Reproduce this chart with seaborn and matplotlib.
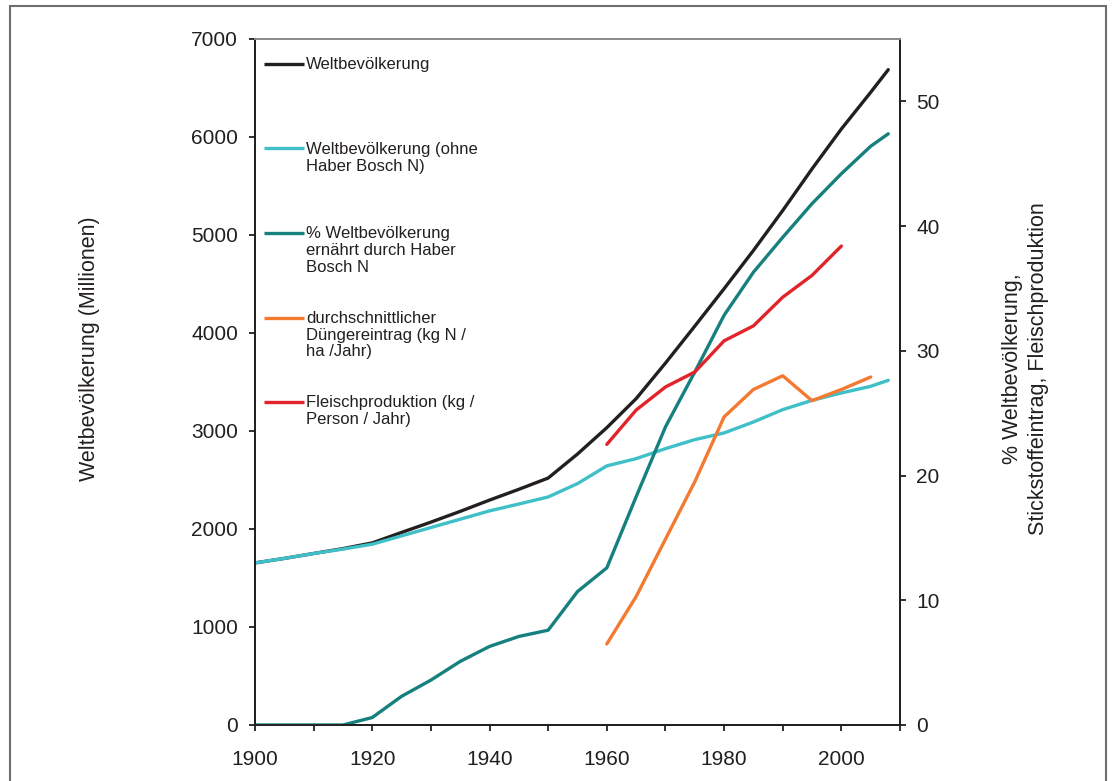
import matplotlib.pyplot as plt
import seaborn as sns
from matplotlib.patches import Rectangle
from matplotlib.ticker import MultipleLocator

sns.set_theme(style="white")
plt.rcParams['font.family'] = ['Liberation Sans', 'DejaVu Sans']

# Daten
years = [1900, 1905, 1910, 1915, 1920, 1925, 1930, 1935, 1940, 1945, 1950, 1955,
         1960, 1965, 1970, 1975, 1980, 1985, 1990, 1995, 2000, 2005, 2008]
pop_total = [1654, 1700, 1750, 1800, 1858, 1965, 2070, 2180, 2295, 2405, 2520, 2765,
             3034, 3330, 3693, 4070, 4452, 4842, 5250, 5675, 6082, 6456, 6687]
pop_no_hb = [1654, 1700, 1750, 1795, 1845, 1930, 2015, 2100, 2185, 2255, 2327, 2463,
             2644, 2718, 2820, 2912, 2980, 3092, 3218, 3313, 3388, 3456, 3517]
hb_share = [0, 0, 0, 0, 0.6, 2.3, 3.6, 5.1, 6.3, 7.1, 7.6, 10.7,
            12.6, 18.3, 23.9, 28.3, 32.85, 36.3, 39.1, 41.8, 44.2, 46.4, 47.4]
years_fert = [1960, 1965, 1970, 1975, 1980, 1985, 1990, 1995, 2000, 2005]
fert = [6.5, 10.3, 14.9, 19.5, 24.7, 26.9, 28.0, 26.0, 26.9, 27.9]
years_meat = [1960, 1965, 1970, 1975, 1980, 1985, 1990, 1995, 2000]
meat = [22.5, 25.25, 27.1, 28.3, 30.8, 32.0, 34.3, 36.05, 38.4]

labels = ["Weltbevölkerung",
          "Weltbevölkerung (ohne\nHaber Bosch N)",
          "% Weltbevölkerung\nernährt durch Haber\nBosch N",
          "durchschnittlicher\nDüngereintrag (kg N /\nha /Jahr)",
          "Fleischproduktion (kg /\nPerson / Jahr)"]
colors = ["#231f20", "#3fc0c8", "#16807f", "#f37a30", "#e2232a"]
lw = 2.4

fig = plt.figure(figsize=(11.13, 7.81), dpi=100)
ax = fig.add_axes([255 / 1113, 1 - 725 / 781, 645 / 1113, 686 / 781])
ax2 = ax.twinx()

sns.lineplot(x=years, y=pop_total, ax=ax, color=colors[0], lw=lw)
sns.lineplot(x=years, y=pop_no_hb, ax=ax, color=colors[1], lw=lw)
sns.lineplot(x=years, y=hb_share, ax=ax2, color=colors[2], lw=lw)
sns.lineplot(x=years_fert, y=fert, ax=ax2, color=colors[3], lw=lw)
sns.lineplot(x=years_meat, y=meat, ax=ax2, color=colors[4], lw=lw)

ax.set_xlim(1900, 2010)
ax.set_ylim(0, 7000)
ax2.set_ylim(0, 55)
ax.xaxis.set_major_locator(MultipleLocator(20))
ax.xaxis.set_minor_locator(MultipleLocator(10))
ax.yaxis.set_major_locator(MultipleLocator(1000))
ax2.yaxis.set_major_locator(MultipleLocator(10))

dark = "#231f20"
for a in (ax, ax2):
    for s in a.spines.values():
        s.set_color(dark)
        s.set_linewidth(1.3)
    a.spines['top'].set_color("#8c8c8c")
    a.tick_params(which='both', direction='out', color=dark, width=1.3,
                  length=4.2, labelsize=15, labelcolor=dark)
ax.tick_params(axis='x', which='both', bottom=True, pad=14)
ax.tick_params(axis='y', left=True, pad=8)
ax2.tick_params(axis='y', right=True, pad=7.5)

ax.set_ylabel("Weltbevölkerung (Millionen)", fontsize=15.5, color=dark)
ax.yaxis.set_label_coords(-0.240, 0.548)
ax2.set_ylabel("% Weltbevölkerung,\nStickstoffeintrag, Fleischproduktion",
               fontsize=15.5, color=dark, rotation=90, linespacing=1.3)
ax2.yaxis.set_label_coords(1.158, 0.52)

# Legende wie in der Vorlage: Einträge mit großem Abstand untereinander
y0, step = 0.9636, 0.1232
for i, (lab, col) in enumerate(zip(labels, colors)):
    yy = y0 - i * step
    ax2.plot([0.014, 0.076], [yy, yy], transform=ax2.transAxes, color=col,
             lw=lw, solid_capstyle='butt')
    ax2.text(0.079, yy + 0.0098, lab, transform=ax2.transAxes, va='top',
             ha='left', fontsize=12, color=dark, linespacing=1.15)

fig.patches.append(Rectangle((10 / 1113, -0.05), 1096 / 1113, 1.05 - 6 / 781,
                             transform=fig.transFigure, fill=False,
                             ec="#6e6e6e", lw=1.5))

fig.savefig("out.png", dpi=100)
